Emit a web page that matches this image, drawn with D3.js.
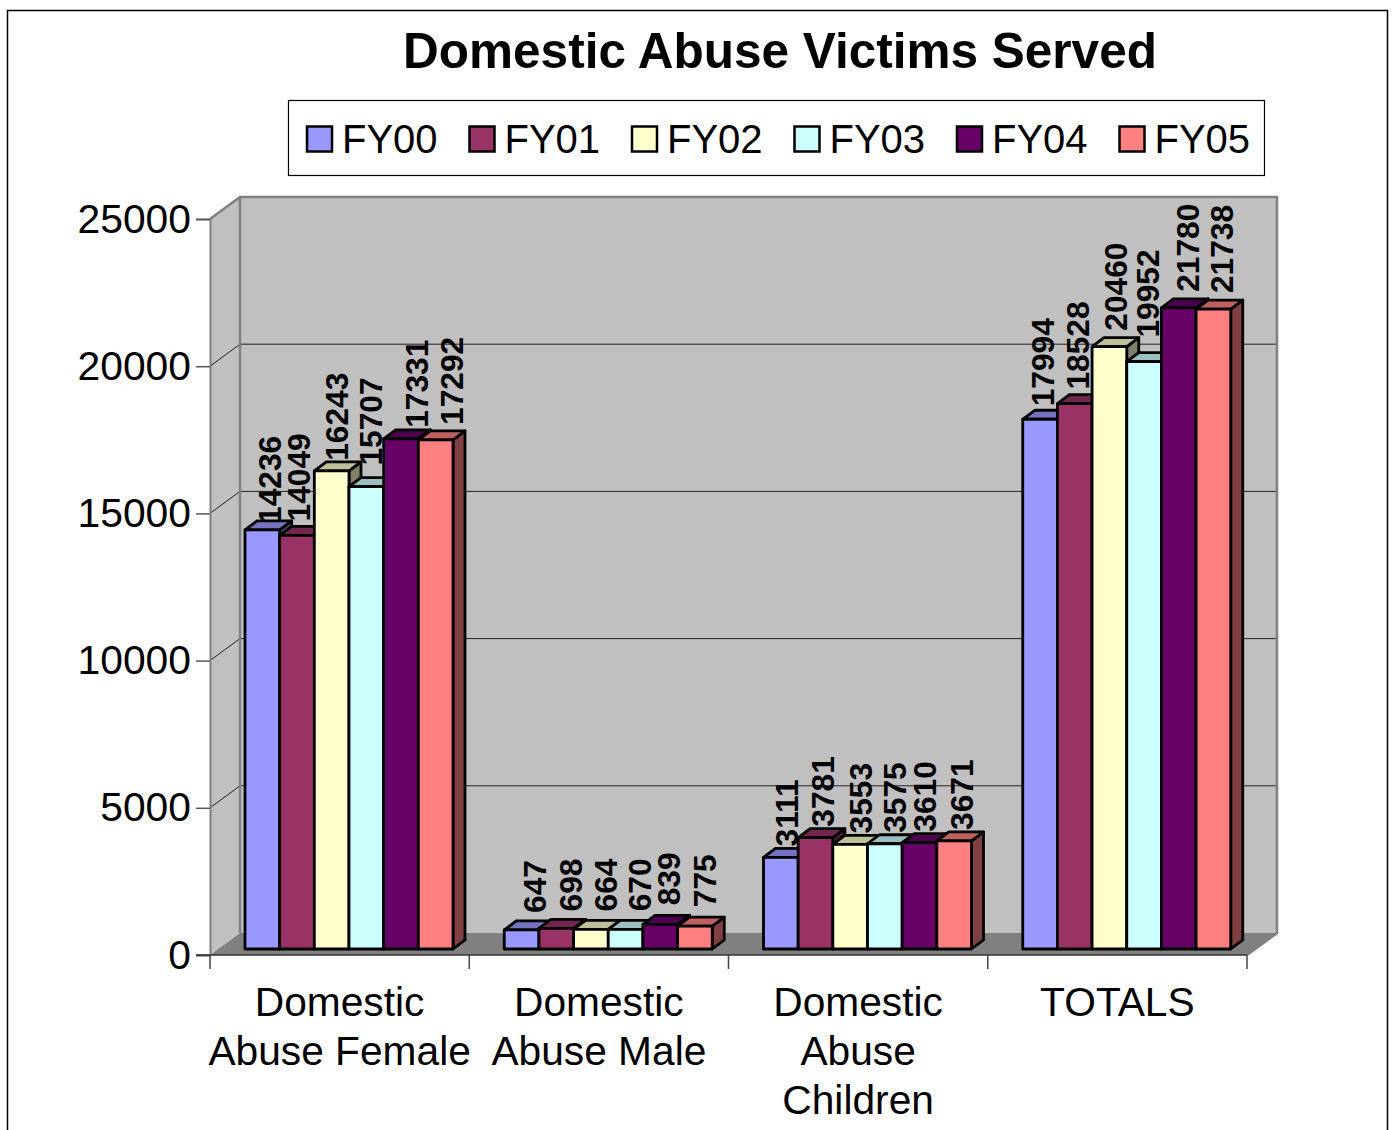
<!DOCTYPE html>
<html>
<head>
<meta charset="utf-8">
<script src="https://cdn.jsdelivr.net/npm/d3@7"></script>
<style>
  html, body { margin: 0; padding: 0; background: #fff; overflow: hidden; }
  text { font-family: "Liberation Sans", Arial, sans-serif; fill: #000; }
</style>
</head>
<body>
<svg id="chart"></svg>
<script>
const svgWidth = 1393;
const svgHeight = 1130;

const categories = ["Domestic Abuse Female", "Domestic Abuse Male", "Domestic Abuse Children", "TOTALS"];
const categoryLines = [["Domestic", "Abuse Female"], ["Domestic", "Abuse Male"], ["Domestic", "Abuse", "Children"], ["TOTALS"]];
const seriesNames = ["FY00", "FY01", "FY02", "FY03", "FY04", "FY05"];
const seriesColors = ["#9999ff", "#993366", "#ffffcc", "#ccffff", "#660066", "#ff8080"];
const fy00 = [14236, 647, 3111, 17994];
const fy01 = [14049, 698, 3781, 18528];
const fy02 = [16243, 664, 3553, 20460];
const fy03 = [15707, 670, 3575, 19952];
const fy04 = [17331, 839, 3610, 21780];
const fy05 = [17292, 775, 3671, 21738];
const seriesValues = [fy00, fy01, fy02, fy03, fy04, fy05];
const yTicks = [0, 5000, 10000, 15000, 20000, 25000];

// front plane of the 3d box and how far the back wall is pushed
const plot = { left: 210, right: 1247, top: 219, bottom: 955 };
const wall = { dx: 30, dy: -22 };
const barShift = { dx: 0, dy: -6 };   // bars stand a little in from the front edge
const barDepth = { dx: 12, dy: -9 };

// the value labels are not evenly placed in the original, nudge them per category
const labelGap = [
    [6, 14, 10, 21, 11, 15],
    [17, 17, 18, 18, 19, 19],
    [11, 11, 11, 11, 11, 11],
    [13, 14, 16, 24, 16, 16]
];
const labelNudge = [
    [-1, -7, -4, -4, 7, 7],
    [4, 6, 6, 5, 0, 1],
    [-3, -2, 2, 1, -4, -1],
    [-6, -6, -2, -5, 0, 0]
];

const svg = d3.select("#chart")
    .attr("width", svgWidth)
    .attr("height", svgHeight);

// outer frame, runs off the bottom of the page
svg.append("path")
    .attr("d", `M7.5,${svgHeight + 5}V10.5H1387.5V${svgHeight + 5}`)
    .attr("fill", "none")
    .attr("stroke", "#000")
    .attr("stroke-width", 1.5);

svg.append("text")
    .attr("x", 780)
    .attr("y", 68)
    .attr("text-anchor", "middle")
    .style("font-size", "49.5px")
    .style("font-weight", "bold")
    .text("Domestic Abuse Victims Served");

// Scales
const xScale = d3.scaleBand()
    .domain(categories)
    .range([plot.left, plot.right])
    .paddingInner(0)
    .paddingOuter(0);

const seriesScale = d3.scaleBand()
    .domain(seriesNames)
    .range([35, xScale.bandwidth() - 16.25]);

const yScale = d3.scaleLinear()
    .domain([0, 25000])
    .range([plot.bottom, plot.top]);

// Walls and floor
const backLeft = plot.left + wall.dx;
const backRight = plot.right + wall.dx;
const backTop = plot.top + wall.dy;
const backBottom = plot.bottom + wall.dy;

svg.append("rect")
    .attr("x", backLeft)
    .attr("y", backTop)
    .attr("width", backRight - backLeft)
    .attr("height", backBottom - backTop)
    .attr("fill", "#c0c0c0");

svg.append("path")
    .attr("d", `M${plot.left},${plot.top}L${backLeft},${backTop}V${backBottom}L${plot.left},${plot.bottom}Z`)
    .attr("fill", "#c0c0c0");

svg.append("path")
    .attr("d", `M${plot.left},${plot.bottom}L${backLeft},${backBottom}H${backRight}L${plot.right},${plot.bottom}Z`)
    .attr("fill", "#808080");

// Gridlines on the side wall and back wall
svg.selectAll(".grid")
    .data(yTicks.filter(d => d > 0 && d < 25000))
    .enter()
    .append("path")
    .attr("class", "grid")
    .attr("d", d => `M${plot.left},${yScale(d)}L${backLeft},${yScale(d) + wall.dy}H${backRight}`)
    .attr("fill", "none")
    .attr("stroke", "#222")
    .attr("stroke-width", 1);

svg.append("path")
    .attr("d", `M${plot.left},${plot.top}L${backLeft},${backTop}H${backRight}V${backBottom}L${plot.right},${plot.bottom}`)
    .attr("fill", "none")
    .attr("stroke", "#808080")
    .attr("stroke-width", 2.5);

svg.append("path")
    .attr("d", `M${backLeft},${backTop}V${backBottom}`)
    .attr("stroke", "#808080")
    .attr("stroke-width", 2.5);

// Axes
const yAxis = d3.axisLeft(yScale)
    .tickValues(yTicks)
    .tickSize(14)
    .tickPadding(5)
    .tickFormat(d => d);

const yG = svg.append("g")
    .attr("transform", `translate(${plot.left},0)`)
    .call(yAxis);
yG.select(".domain").attr("stroke", "#808080").attr("stroke-width", 2);
yG.selectAll(".tick line").attr("stroke", "#555").attr("stroke-width", 1.5);
yG.selectAll(".tick text")
    .attr("fill", "#000")
    .style("font-family", '"Liberation Sans", Arial, sans-serif')
    .style("font-size", "40.8px");

svg.append("line")
    .attr("x1", plot.left - 14).attr("x2", plot.right)
    .attr("y1", plot.bottom).attr("y2", plot.bottom)
    .attr("stroke", "#333").attr("stroke-width", 1.5);

const xEdges = categories.map(c => xScale(c)).concat([plot.right]);
svg.selectAll(".xtick")
    .data(xEdges)
    .enter()
    .append("line")
    .attr("class", "xtick")
    .attr("x1", d => d).attr("x2", d => d)
    .attr("y1", plot.bottom).attr("y2", plot.bottom + 14)
    .attr("stroke", "#444").attr("stroke-width", 1.5);

const catLabels = svg.selectAll(".cat")
    .data(categories)
    .enter()
    .append("text")
    .attr("class", "cat")
    .attr("text-anchor", "middle")
    .attr("y", 1016)
    .style("font-size", "40.7px");

catLabels.selectAll("tspan")
    .data((d, i) => categoryLines[i].map(line => ({ line, cat: d })))
    .enter()
    .append("tspan")
    .attr("x", d => xScale(d.cat) + xScale.bandwidth() / 2)
    .attr("dy", (d, i) => i === 0 ? 0 : 49)
    .text(d => d.line);

// Bars, one category at a time so each bar covers the side of the one before
const shade = (color, k) => {
    const c = d3.rgb(color);
    return d3.rgb(c.r * k, c.g * k, c.b * k).formatHex();
};

const bars = [];
categories.forEach((cat, ci) => {
    seriesNames.forEach((name, si) => {
        bars.push({ cat, name, ci, si, value: seriesValues[si][ci], color: seriesColors[si] });
    });
});

const barG = svg.selectAll(".bar")
    .data(bars)
    .enter()
    .append("g")
    .attr("class", "bar")
    .attr("stroke", "#000")
    .attr("stroke-width", 2.8)
    .attr("stroke-linejoin", "round");

const x0 = d => xScale(d.cat) + seriesScale(d.name) + barShift.dx;
const x1 = d => x0(d) + seriesScale.bandwidth();
const yT = d => yScale(d.value) + barShift.dy;
const yB = yScale(0) + barShift.dy;

barG.append("path")
    .attr("fill", d => shade(d.color, 0.5))
    .attr("d", d => `M${x1(d)},${yT(d)}l${barDepth.dx},${barDepth.dy}V${yB + barDepth.dy}L${x1(d)},${yB}Z`);

barG.append("path")
    .attr("fill", d => shade(d.color, 0.75))
    .attr("d", d => `M${x0(d)},${yT(d)}l${barDepth.dx},${barDepth.dy}H${x1(d) + barDepth.dx}L${x1(d)},${yT(d)}Z`);

barG.append("rect")
    .attr("x", x0)
    .attr("y", yT)
    .attr("width", seriesScale.bandwidth())
    .attr("height", d => yB - yT(d))
    .attr("fill", d => d.color);

// Value labels, rotated, above the bar tops
svg.selectAll(".value")
    .data(bars)
    .enter()
    .append("text")
    .attr("class", "value")
    .attr("transform", d => {
        const x = x0(d) + seriesScale.bandwidth() / 2 + 20 + labelNudge[d.ci][d.si];
        return `translate(${x},${yT(d) - labelGap[d.ci][d.si]}) rotate(-90)`;
    })
    .style("font-size", "31.7px")
    .style("font-weight", "bold")
    .text(d => d.value);

// Legend
svg.append("rect")
    .attr("x", 288.5).attr("y", 100.5)
    .attr("width", 976).attr("height", 75)
    .attr("fill", "#fff")
    .attr("stroke", "#000")
    .attr("stroke-width", 1.2);

const legendX = d3.scaleBand()
    .domain(seriesNames)
    .range([307, 1282]);

const legend = svg.selectAll(".legend")
    .data(seriesNames)
    .enter()
    .append("g")
    .attr("class", "legend")
    .attr("transform", d => `translate(${legendX(d)},0)`);

legend.append("rect")
    .attr("y", 126.5)
    .attr("width", 25)
    .attr("height", 25)
    .attr("fill", (d, i) => seriesColors[i])
    .attr("stroke", "#000")
    .attr("stroke-width", 2.5);

legend.append("text")
    .attr("x", 35)
    .attr("y", 153)
    .style("font-size", "40px")
    .text(d => d);
</script>
</body>
</html>
